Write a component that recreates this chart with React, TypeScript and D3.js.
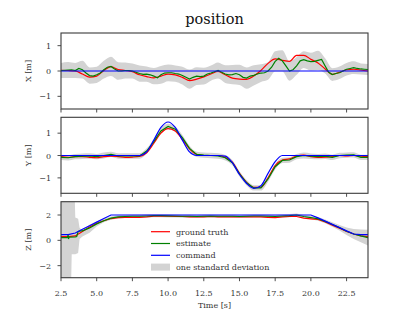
import React from "react";
import * as d3 from "d3";

// ---------- data ----------
const tCoarse: number[] = d3.range(2.5, 24.001, 0.5);
const tFine: number[] = d3.range(2.5, 24.001, 0.25);

const xTruth = [0.03, 0.02, 0.0, -0.12, -0.24, -0.2, 0.02, 0.17, 0.06, 0.02, -0.03, -0.15, -0.22, -0.27, -0.2, -0.12, -0.15, -0.25, -0.38, -0.32, -0.23, -0.12, -0.02, -0.15, -0.28, -0.32, -0.33, -0.2, 0.02, 0.3, 0.48, 0.42, 0.38, 0.62, 0.62, 0.46, 0.32, 0.08, -0.13, -0.05, 0.05, 0.07, 0.04, 0.0];
const xEstimate = [0.02, 0.03, 0.04, 0.05, 0.02, 0.1, 0.05, -0.08, -0.18, -0.2, -0.15, -0.08, 0.05, 0.15, 0.18, 0.08, 0.0, 0.0, 0.02, 0.02, 0.0, -0.05, -0.1, -0.13, -0.12, -0.15, -0.2, -0.27, -0.15, -0.08, -0.07, -0.07, -0.1, -0.12, -0.18, -0.25, -0.32, -0.25, -0.2, -0.22, -0.2, -0.12, -0.08, -0.03, 0.02, -0.05, -0.12, -0.15, -0.14, -0.1, -0.15, -0.25, -0.28, -0.2, -0.17, -0.12, -0.08, -0.07, 0.0, 0.15, 0.38, 0.5, 0.4, 0.2, 0.0, 0.05, 0.2, 0.4, 0.45, 0.4, 0.37, 0.38, 0.42, 0.46, 0.2, -0.05, -0.14, -0.1, -0.07, 0.0, 0.07, 0.1, 0.13, 0.1, 0.08, 0.07, 0.06];
const xCommand = [0, 0, 0, 0, 0, 0, 0, 0, 0, 0, 0, 0, 0, 0, 0, 0, 0, 0, 0, 0, 0, 0, 0, 0, 0, 0, 0, 0, 0, 0, 0, 0, 0, 0, 0, 0, 0, 0, 0, 0, 0, 0, 0, 0];
const xSigma = [0.3, 0.32, 0.3, 0.35, 0.32, 0.32, 0.35, 0.38, 0.35, 0.32, 0.3, 0.32, 0.3, 0.32, 0.35, 0.33, 0.32, 0.35, 0.38, 0.35, 0.33, 0.3, 0.32, 0.35, 0.38, 0.4, 0.42, 0.4, 0.35, 0.35, 0.4, 0.42, 0.38, 0.35, 0.33, 0.35, 0.38, 0.3, 0.25, 0.25, 0.25, 0.25, 0.22, 0.22];

const yTruth = [-0.05, -0.08, -0.05, -0.05, -0.08, -0.1, -0.05, -0.03, -0.05, -0.08, -0.07, -0.04, 0.12, 0.55, 1.0, 1.2, 1.1, 0.72, 0.3, 0.05, 0.0, 0.0, 0.0, -0.08, -0.3, -0.8, -1.2, -1.42, -1.42, -1.0, -0.45, -0.2, -0.15, -0.02, 0.02, -0.05, -0.08, -0.07, -0.05, 0.0, -0.02, 0.0, -0.03, -0.05];
const yEstimate = [-0.08, -0.1, -0.05, -0.03, -0.02, -0.05, 0.0, 0.05, -0.02, -0.02, -0.02, -0.02, 0.2, 0.62, 1.1, 1.3, 1.18, 0.8, 0.32, 0.05, 0.02, 0.0, -0.02, -0.1, -0.32, -0.82, -1.22, -1.45, -1.45, -1.05, -0.5, -0.22, -0.2, -0.05, 0.0, -0.03, -0.05, -0.03, -0.08, 0.0, 0.02, 0.03, -0.08, -0.08];
const yCommand = [0, 0, 0, 0, 0, 0, 0, 0, 0, 0, 0, 0, 0.16, 0.69, 1.26, 1.5, 1.26, 0.69, 0.16, 0, 0, 0, 0, -0.03, -0.32, -0.85, -1.25, -1.47, -1.35, -0.8, -0.27, 0, 0, 0, 0, 0, 0, 0, 0, 0, 0, 0, 0, 0];
const ySigma = [0.12, 0.12, 0.12, 0.12, 0.12, 0.12, 0.13, 0.12, 0.12, 0.12, 0.12, 0.12, 0.12, 0.12, 0.12, 0.12, 0.12, 0.12, 0.12, 0.12, 0.12, 0.12, 0.12, 0.12, 0.12, 0.12, 0.12, 0.12, 0.12, 0.12, 0.12, 0.12, 0.12, 0.12, 0.13, 0.12, 0.12, 0.12, 0.12, 0.12, 0.12, 0.12, 0.12, 0.12];

const zTruth = [0.3, 0.3, 0.35, 0.7, 1.05, 1.35, 1.55, 1.72, 1.8, 1.82, 1.82, 1.82, 1.85, 1.9, 1.92, 1.9, 1.88, 1.88, 1.85, 1.85, 1.85, 1.88, 1.85, 1.85, 1.85, 1.85, 1.85, 1.85, 1.85, 1.82, 1.8, 1.85, 1.88, 1.88, 1.75, 1.7, 1.65, 1.45, 1.2, 0.95, 0.7, 0.5, 0.35, 0.3];
const zCommand = [0.45, 0.45, 0.58, 0.87, 1.15, 1.44, 1.73, 2.0, 2.0, 2.0, 2.0, 2.0, 2.0, 2.0, 2.0, 2.0, 2.0, 2.0, 2.0, 2.0, 2.0, 2.0, 2.0, 2.0, 2.0, 2.0, 2.0, 2.0, 2.0, 2.0, 2.0, 2.0, 2.0, 2.0, 2.0, 2.0, 1.77, 1.52, 1.26, 1.0, 0.75, 0.5, 0.45, 0.45];
const zEstTime: number[] = [2.5, 2.95, 3.0, 3.03, 3.06, 3.5, 3.6, 3.7, 3.9, 4.0, 4.5].concat(d3.range(5, 24.001, 0.5));
const zEstimate = [0.22, 0.24, 0.45, 0.1, 0.25, 0.28, 0.3, 0.7, 0.75, 0.75, 0.98, 1.3, 1.55, 1.75, 1.85, 1.88, 1.9, 1.9, 1.92, 1.95, 1.95, 1.93, 1.92, 1.9, 1.9, 1.88, 1.9, 1.92, 1.9, 1.9, 1.9, 1.88, 1.9, 1.92, 1.92, 1.9, 1.88, 1.92, 1.95, 2.0, 1.88, 1.8, 1.7, 1.5, 1.25, 1.0, 0.72, 0.5, 0.35, 0.22];
const zBandTime: number[] = [2.5, 3.0, 3.2, 3.25, 3.45, 3.5, 3.7, 3.8, 4.0, 4.5].concat(d3.range(5, 24.001, 0.5));
const zBandHi = [4, 4, 4, 4, 4, 1.8, 1.7, 1.0, 0.75, 1.25, 1.5, 1.7, 1.88, 1.97, 2.0, 2.02, 2.02, 2.05, 2.07, 2.07, 2.05, 2.04, 2.02, 2.02, 2.0, 2.02, 2.04, 2.02, 2.02, 2.02, 2.0, 2.02, 2.04, 2.04, 2.02, 2.0, 2.04, 2.07, 2.12, 2.0, 1.93, 1.85, 1.65, 1.43, 1.22, 1.02, 0.9, 0.85, 0.84];
const zBandLo = [-4, -4, -4, -1.1, -1.1, -1.1, -1.0, 0.1, 0.3, 0.6, 1.1, 1.42, 1.63, 1.73, 1.76, 1.78, 1.78, 1.8, 1.83, 1.83, 1.81, 1.8, 1.78, 1.78, 1.76, 1.78, 1.8, 1.78, 1.78, 1.78, 1.76, 1.78, 1.8, 1.8, 1.78, 1.76, 1.8, 1.83, 1.88, 1.76, 1.67, 1.55, 1.35, 1.07, 0.78, 0.42, 0.1, -0.15, -0.4];

const xTicks = [2.5, 5, 7.5, 10, 12.5, 15, 17.5, 20, 22.5];
const legendLabels = ["ground truth", "estimate", "command", "one standard deviation"];

// ---------- layout ----------
const W = 409, H = 328;
const left = 61, right = 368;
const FONT = "DejaVu Serif";
const RED = "#ff0000", GREEN = "#008000", BLUE = "#0000ff", BAND = "#d3d3d3";
const FRAME = "#3a3a3a";

type Panel = {
  key: string; label: string; top: number; bottom: number; domain: [number, number]; ticks: number[];
  truth: number[]; est: number[]; estT: number[]; cmd: number[];
  bandT: number[]; bandLo: number[]; bandHi: number[]; bandCurve: any; smooth: boolean;
};

const xCentre = tCoarse.map((_, i) => xEstimate[2 * i]);

const panels: Panel[] = [
  {
    key: "x", label: "X [m]", top: 33, bottom: 109, domain: [-1.5, 1.5], ticks: [-1, 0, 1],
    truth: xTruth, est: xEstimate, estT: tFine, cmd: xCommand,
    bandT: tCoarse, bandLo: xCentre.map((c, i) => c - xSigma[i]), bandHi: xCentre.map((c, i) => c + xSigma[i]),
    bandCurve: d3.curveMonotoneX, smooth: true,
  },
  {
    key: "y", label: "Y [m]", top: 117.3, bottom: 193.3, domain: [-1.69, 1.71], ticks: [-1, 0, 1],
    truth: yTruth, est: yEstimate, estT: tCoarse, cmd: yCommand,
    bandT: tCoarse, bandLo: yEstimate.map((c, i) => c - ySigma[i]), bandHi: yEstimate.map((c, i) => c + ySigma[i]),
    bandCurve: d3.curveMonotoneX, smooth: true,
  },
  {
    key: "z", label: "Z [m]", top: 201.7, bottom: 277.7, domain: [-2.95, 3.05], ticks: [-2, 0, 2],
    truth: zTruth, est: zEstimate, estT: zEstTime, cmd: zCommand,
    bandT: zBandTime, bandLo: zBandLo, bandHi: zBandHi, bandCurve: d3.curveLinear, smooth: false,
  },
];

const fmt = (v: number) => (v < 0 ? "\u2212" + Math.abs(v) : String(v));

export default function App() {
  const x = d3.scaleLinear().domain([2.5, 24]).range([left, right]);

  return (
    <svg width={W} height={H} style={{ position: "absolute", left: 0, top: 0, background: "#fff" }} fontFamily={FONT}>
      <defs>
        {panels.map((p) => (
          <clipPath id={"clip-" + p.key} key={p.key}>
            <rect x={left} y={p.top} width={right - left} height={p.bottom - p.top} />
          </clipPath>
        ))}
      </defs>
      <text x={(left + right) / 2} y={24} textAnchor="middle" fontSize={14.5} fill="#111">position</text>
      {panels.map((p, pi) => {
        const y = d3.scaleLinear().domain(p.domain).range([p.bottom, p.top]);
        const area = d3.area<number>()
          .x((_, i) => x(p.bandT[i]))
          .y0((_, i) => y(p.bandLo[i]))
          .y1((_, i) => y(p.bandHi[i]))
          .curve(p.bandCurve);
        const curve = p.smooth ? d3.curveMonotoneX : d3.curveLinear;
        const line = (ts: number[], c: any) => d3.line<number>().x((_, i) => x(ts[i])).y((v) => y(v)).curve(c);
        return (
          <g key={p.key}>
            <g clipPath={`url(#clip-${p.key})`}>
              <path d={area(p.bandLo) || ""} fill={BAND} stroke="none" />
              <path d={line(tCoarse, curve)(p.truth) || ""} fill="none" stroke={RED} strokeWidth={1.2} />
              <path d={line(p.estT, d3.curveLinear)(p.est) || ""} fill="none" stroke={GREEN} strokeWidth={1.2} />
              <path d={line(tCoarse, curve)(p.cmd) || ""} fill="none" stroke={BLUE} strokeWidth={1.2} />
            </g>
            <rect x={left} y={p.top} width={right - left} height={p.bottom - p.top} fill="none" stroke={FRAME} strokeWidth={1.1} />
            {p.ticks.map((t) => (
              <g key={t}>
                <line x1={left - 3.5} x2={left} y1={y(t)} y2={y(t)} stroke={FRAME} strokeWidth={0.9} />
                <text x={left - 10} y={y(t) + 3} textAnchor="end" fontSize={8} fill="#333">{fmt(t)}</text>
              </g>
            ))}
            {xTicks.map((t) => (
              <line key={t} x1={x(t)} x2={x(t)} y1={p.bottom} y2={p.bottom + 3.5} stroke={FRAME} strokeWidth={0.9} />
            ))}
            <text transform={`translate(31,${(p.top + p.bottom) / 2}) rotate(-90)`} textAnchor="middle" fontSize={8} fill="#333">{p.label}</text>
            {pi === 2 && xTicks.map((t) => (
              <text key={t} x={x(t)} y={295.5} textAnchor="middle" fontSize={8} fill="#333">{t.toFixed(1)}</text>
            ))}
          </g>
        );
      })}
      <text x={(left + right) / 2} y={308} textAnchor="middle" fontSize={8} fill="#333">Time [s]</text>
      {legendLabels.map((l, i) => {
        const yy = 231.7 + i * 11.8;
        return (
          <g key={l}>
            {i < 3 ? (
              <line x1={151} x2={170} y1={yy} y2={yy} stroke={[RED, GREEN, BLUE][i]} strokeWidth={1.2} />
            ) : (
              <rect x={151} y={yy - 3.5} width={19} height={7} fill={BAND} />
            )}
            <text x={176} y={yy + 2.8} fontSize={8} fill="#333">{l}</text>
          </g>
        );
      })}
    </svg>
  );
}
